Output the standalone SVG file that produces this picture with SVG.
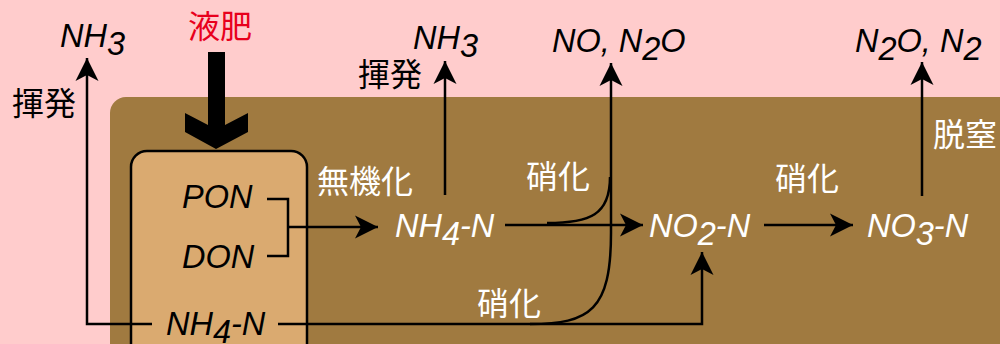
<svg xmlns="http://www.w3.org/2000/svg" width="1000" height="344" viewBox="0 0 1000 344">
<defs>
<style>
.lat{font-family:"Liberation Sans",Arial,sans-serif;font-style:italic;font-size:32.5px}
.cjk{font-family:"Noto Sans CJK JP","Noto Sans CJK SC",sans-serif;font-size:32px;text-anchor:middle}
.blk{fill:#000}
.wht{fill:#fff}
.red{fill:#e8001c}
.ln{fill:none;stroke:#000;stroke-width:2.5}
.arr{marker-end:url(#ah)}
</style>
<marker id="ah" markerUnits="userSpaceOnUse" viewBox="-23 -12 24 24" refX="0" refY="0" markerWidth="24" markerHeight="24" orient="auto" overflow="visible">
<path d="M0,0 L-23,-11.5 L-17,0 L-23,11.5 Z" fill="#000"/>
</marker>
</defs>
<rect x="0" y="0" width="1000" height="344" fill="#ffcccc"/>
<rect id="soil" x="110" y="97" width="910" height="300" rx="16" fill="#a07a40"/>
<g id="box">
<rect x="131" y="151" width="176" height="230" rx="16" fill="#daaa70" stroke="#000" stroke-width="2.5"/>
</g>
<g id="connectors">
<polygon points="208,52 225,52 225,125 248,113 248,132 216,149 185,132 185,113 208,125" fill="#000"/>
<path class="ln" d="M267,199 H288 V256 H267"/>
<path class="ln arr" d="M288,227 H378"/>
<path class="ln arr" d="M152,324 H87 V58"/>
<path class="ln arr" d="M278,324 H702 V252"/>
<path class="ln arr" d="M445,195 V61"/>
<path class="ln arr" d="M505,225 H643"/>
<path class="ln arr" d="M764,225 H853"/>
<path class="ln arr" d="M922,196 V62"/>
<path class="ln" d="M547,223 C590,223 610,215 610,177"/>
<path class="ln arr" d="M530,324 C590,324 611,310 611,233 L611,63"/>
</g>
<g id="fert"><text class="cjk red" x="220" y="38">液肥</text></g>
<g id="nh3-left"><text class="lat blk" x="60" y="47">NH<tspan dy="8">3</tspan></text></g>
<g id="volat-left"><text class="cjk blk" x="44" y="115">揮発</text></g>
<g id="pon"><text class="lat blk" x="182" y="208">PON</text></g>
<g id="don"><text class="lat blk" x="182" y="268">DON</text></g>
<g id="nh4-box"><text class="lat blk" x="166" y="335">NH<tspan dy="8">4</tspan><tspan dy="-8">-N</tspan></text></g>
<g id="mineral"><text class="cjk wht" x="365" y="193">無機化</text></g>
<g id="nh4"><text class="lat wht" x="395" y="237">NH<tspan dy="8">4</tspan><tspan dy="-8">-N</tspan></text></g>
<g id="volat-mid"><text class="cjk blk" x="390" y="86">揮発</text></g>
<g id="nh3-mid"><text class="lat blk" x="413" y="49">NH<tspan dy="8">3</tspan></text></g>
<g id="nitr1"><text class="cjk wht" x="558" y="188">硝化</text></g>
<g id="nitr2"><text class="cjk wht" x="509" y="315">硝化</text></g>
<g id="no-n2o"><text class="lat blk" x="552" y="52">NO, N<tspan dy="8">2</tspan><tspan dy="-8">O</tspan></text></g>
<g id="no2"><text class="lat wht" x="649" y="237">NO<tspan dy="8">2</tspan><tspan dy="-8">-N</tspan></text></g>
<g id="nitr3"><text class="cjk wht" x="807" y="190">硝化</text></g>
<g id="no3"><text class="lat wht" x="867" y="237">NO<tspan dy="8">3</tspan><tspan dy="-8">-N</tspan></text></g>
<g id="denitr"><text class="cjk wht" x="965" y="146">脱窒</text></g>
<g id="n2o-n2"><text class="lat blk" x="855" y="52">N<tspan dy="8">2</tspan><tspan dy="-8">O, N</tspan><tspan dy="8">2</tspan></text></g>
</svg>
